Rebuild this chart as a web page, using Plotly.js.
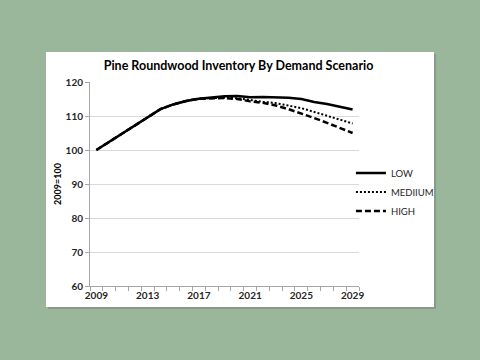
<!DOCTYPE html>
<html>
<head>
<meta charset="utf-8">
<script src="https://cdn.plot.ly/plotly-3.0.1.min.js"></script>
<style>
  html, body { margin:0; padding:0; width:480px; height:360px; overflow:hidden; background:#9bb79b; }
  #box { position:absolute; left:46px; top:52px; width:388px; height:255px; background:#ffffff; box-shadow:2px 2px 0 #8a9a8a; }
  #chart { position:absolute; left:0; top:0; width:480px; height:360px; }
</style>
</head>
<body>
<div id="box"></div>
<div id="chart"></div>
<script>
const years = [2009,2010,2011,2012,2013,2014,2015,2016,2017,2018,2019,2020,2021,2022,2023,2024,2025,2026,2027,2028,2029];
const lowValues    = [100,102.4,104.8,107.2,109.6,112,113.4,114.4,115.1,115.5,115.8,115.9,115.5,115.6,115.6,115.4,115.0,114.1,113.5,112.7,111.9];
const mediumValues = [100,102.4,104.8,107.2,109.6,112,113.4,114.4,115.1,115.3,115.4,115.2,114.6,114.2,113.8,113.1,112.3,111.2,110.1,109.0,107.8];
const highValues   = [100,102.4,104.8,107.2,109.6,112,113.4,114.4,115.1,115.2,115.3,115.0,114.3,113.9,113.1,112.0,110.8,109.4,108.0,106.5,105.0];
const seriesNames = ['LOW','MEDIIUM','HIGH'];
const xTickLabels = [2009,2013,2017,2021,2025,2029];

const boundaries = [];
for (let i = 0; i <= years.length; i++) boundaries.push(years[0] - 0.5 + i);

const traces = [
  {x: years, y: lowValues, name: seriesNames[0], mode:'lines', line:{color:'#000000', width:2.5}},
  {x: years, y: mediumValues, name: seriesNames[1], mode:'lines', line:{color:'#000000', width:2, dash:'2px,2px'}},
  {x: years, y: highValues, name: seriesNames[2], mode:'lines', line:{color:'#000000', width:2.5, dash:'6px,3px'}}
];

const tickFont = {family:'Lato, "Liberation Sans", sans-serif', size:10, color:'#262626', weight:'bold'};

const layout = {
  width:480, height:360,
  paper_bgcolor:'rgba(0,0,0,0)', plot_bgcolor:'rgba(0,0,0,0)',
  margin:{l:90, r:121, t:82, b:74},
  showlegend:true,
  title:{text:'<b>Pine Roundwood Inventory By Demand Scenario</b>', x:0.497, xanchor:'center', y:0.817, yanchor:'middle',
         font:{family:'Lato, "Liberation Sans", sans-serif', size:12.5, color:'#000000'}},
  xaxis:{
    range:[years[0]-0.5, years[years.length-1]+0.5],
    tickmode:'array', tickvals:xTickLabels, ticktext:xTickLabels.map(String),
    ticks:'', showgrid:false, zeroline:false,
    showline:true, linecolor:'#a6a6a6', linewidth:1,
    tickfont:tickFont,
    minor:{tickmode:'array', tickvals:boundaries, ticks:'outside', ticklen:4, tickcolor:'#a6a6a6', showgrid:false}
  },
  yaxis:{
    range:[60,120], dtick:10, tick0:60,
    showgrid:true, gridcolor:'#d9d9d9', gridwidth:1, zeroline:false,
    showline:true, linecolor:'#a6a6a6', linewidth:1,
    ticks:'outside', ticklen:4, tickcolor:'#a6a6a6',
    tickfont:tickFont,
    title:{text:'<b>2009=100</b>', font:{family:'Lato, "Liberation Sans", sans-serif', size:9, color:'#000000'}, standoff:2}
  },
  legend:{x:0.97, xanchor:'left', y:0.625, yanchor:'top', bgcolor:'rgba(0,0,0,0)',
          font:{family:'Lato, "Liberation Sans", sans-serif', size:9.5, color:'#262626'}, tracegroupgap:0}
};

Plotly.newPlot('chart', traces, layout, {staticPlot:true, displayModeBar:false});
</script>
</body>
</html>
